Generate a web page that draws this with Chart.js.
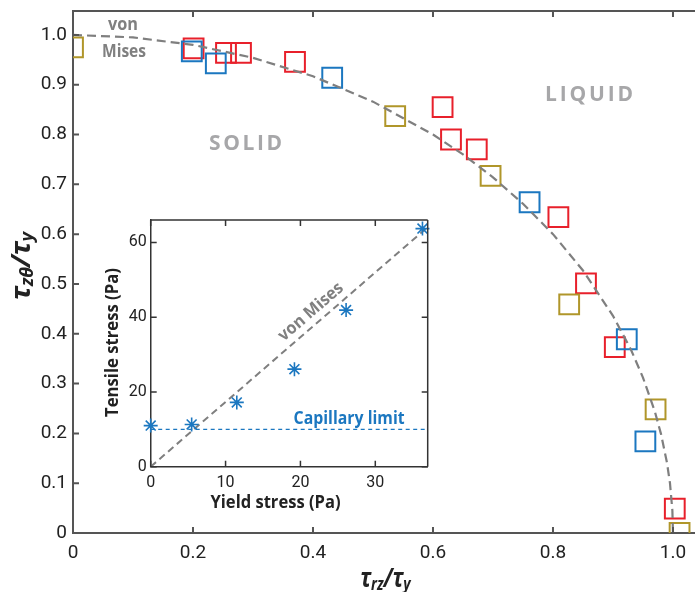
<!DOCTYPE html>
<html><head><meta charset="utf-8">
<script src="https://cdn.jsdelivr.net/npm/chart.js@4/dist/chart.umd.min.js"></script>
<style>
html,body{margin:0;padding:0;background:#fff;}
#wrap{position:relative;width:695px;height:592px;overflow:hidden;}
#main{position:absolute;left:0;top:0;width:695px;height:592px;}
#inset{position:absolute;left:90px;top:210px;width:345px;height:305px;}
</style></head><body>
<div id="wrap"><div id="main"><canvas id="c1"></canvas></div><div id="inset"><canvas id="c2"></canvas></div></div>
<script>
// ---------- main chart data ----------
const xTicks = [0, 0.2, 0.4, 0.6, 0.8, 1.0];
const yTicks = [0, 0.1, 0.2, 0.3, 0.4, 0.5, 0.6, 0.7, 0.8, 0.9, 1.0];
const redX   = [0.201, 0.255, 0.280, 0.370, 0.616, 0.630, 0.673, 0.809, 0.855, 0.903, 1.003];
const redY   = [0.973, 0.964, 0.964, 0.946, 0.855, 0.790, 0.770, 0.634, 0.501, 0.373, 0.049];
const blueX  = [0.198, 0.238, 0.432, 0.761, 0.923, 0.954];
const blueY  = [0.967, 0.943, 0.914, 0.664, 0.389, 0.184];
const oliveX = [0.000, 0.537, 0.696, 0.827, 0.971, 1.011];
const oliveY = [0.975, 0.837, 0.717, 0.459, 0.248, 0.000];
const misesX = [0, 0.1, 0.2, 0.3, 0.4, 0.5, 0.6, 0.65, 0.7, 0.75, 0.8, 0.85, 0.9, 0.93, 0.95, 0.97, 0.98, 0.99, 0.995, 0.999, 1.0];
const misesY = [1.0, 0.995, 0.980, 0.954, 0.917, 0.866, 0.800, 0.760, 0.714, 0.661, 0.600, 0.527, 0.436, 0.368, 0.312, 0.243, 0.199, 0.141, 0.100, 0.045, 0];

// ---------- inset data ----------
const inXTicks = [0, 10, 20, 30];
const inYTicks = [0, 20, 40, 60];
const yieldStress   = [0, 5.47, 11.5, 19.2, 26.1, 36.3];
const tensileStress = [11.0, 11.3, 17.2, 26.1, 41.9, 63.7];
const inMisesX = [0, 37];
const inMisesY = [0, 64.1];
const capX = [0, 37];
const capY = [10, 10];

const RED = '#e8202b', BLUE = '#1b77c0', OLIVE = '#b0962a';
const TICKFONT = 'Roboto, "Open Sans", sans-serif';
const TXTFONT = '"Open Sans", "Noto Sans", sans-serif';

function pts(xs, ys){ return xs.map((x,i)=>({x:x, y:ys[i]})); }
function fmt1(v){ return v === 0 ? '0' : Number(v).toFixed(1); }
function noPad(s){ s.paddingLeft = 0; s.paddingRight = 0; s.paddingTop = 0; s.paddingBottom = 0; }

function spaced(ctx, text, cx, by, totalW){
  const ch = [...text];
  const ws = ch.map(c => ctx.measureText(c).width);
  const sum = ws.reduce((a,b)=>a+b,0);
  const gap = (totalW - sum)/(ch.length-1);
  let x = cx - totalW/2;
  ctx.textAlign = 'left';
  ch.forEach((c,i)=>{ ctx.fillText(c, x, by); x += ws[i] + gap; });
}
function fitText(ctx, text, cx, by, w){
  const m = ctx.measureText(text).width;
  ctx.save();
  ctx.translate(cx, by);
  ctx.scale(w/m, 1);
  ctx.textAlign = 'center';
  ctx.fillText(text, 0, 0);
  ctx.restore();
}
function mathTitle(ctx, parts, w){
  let total = 0;
  const ms = parts.map(p => { ctx.font = p[1] ? 'italic bold 17px "Noto Sans"' : 'italic bold 26px "Noto Sans"'; const m = ctx.measureText(p[0]).width; total += m; return m; });
  const s = w/total;
  ctx.save();
  ctx.scale(s, 1);
  let x = -total/2;
  ctx.textAlign = 'left';
  parts.forEach((p,i) => {
    ctx.font = p[1] ? 'italic bold 17px "Noto Sans"' : 'italic bold 26px "Noto Sans"';
    ctx.fillText(p[0], x, p[1] ? 3 : 0);
    x += ms[i];
  });
  ctx.restore();
}

const framePlugin = {
  id: 'frame',
  afterDatasetsDraw(chart, args, o){
    const {ctx, chartArea:a, scales:{x, y}} = chart;
    ctx.save();
    ctx.strokeStyle = o.color; ctx.lineWidth = o.width;
    ctx.beginPath();
    ctx.moveTo(a.left, a.top); ctx.lineTo(a.right, a.top);
    if (o.right){ ctx.moveTo(a.right, a.top); ctx.lineTo(a.right, a.bottom); }
    x.ticks.forEach(t => {
      const p = x.getPixelForValue(t.value);
      ctx.moveTo(p, a.bottom); ctx.lineTo(p, a.bottom - o.len);
      ctx.moveTo(p, a.top); ctx.lineTo(p, a.top + o.len);
    });
    y.ticks.forEach(t => {
      const p = y.getPixelForValue(t.value);
      ctx.moveTo(a.left, p); ctx.lineTo(a.left + o.len, p);
      if (o.right){ ctx.moveTo(a.right, p); ctx.lineTo(a.right - o.len, p); }
    });
    ctx.stroke();
    ctx.restore();
  }
};

const mainText = {
  id: 'mainText',
  afterDraw(chart){
    const {ctx, chartArea:a, scales:{x, y}} = chart;
    ctx.save();
    ctx.textBaseline = 'alphabetic';
    ctx.fillStyle = '#a7a7a9';
    ctx.font = 'bold 21px ' + TXTFONT;
    spaced(ctx, 'SOLID', x.getPixelForValue(0.2875), y.getPixelForValue(0.768), 73);
    spaced(ctx, 'LIQUID', x.getPixelForValue(0.86), y.getPixelForValue(0.868), 88);
    ctx.fillStyle = '#808080';
    ctx.font = 'bold 18px ' + TXTFONT;
    fitText(ctx, 'von', x.getPixelForValue(0.0833), y.getPixelForValue(1.010), 30);
    fitText(ctx, 'Mises', x.getPixelForValue(0.085), y.getPixelForValue(0.955), 44);
    ctx.fillStyle = '#222';
    ctx.save();
    ctx.translate((a.left + a.right)/2 + 1.5, 587);
    mathTitle(ctx, [['τ',0],['rz',1],['/',0],['τ',0],['y',1]], 50);
    ctx.restore();
    ctx.save();
    ctx.translate(30, 266);
    ctx.rotate(-Math.PI/2);
    mathTitle(ctx, [['τ',0],['zθ',1],['/',0],['τ',0],['y',1]], 68);
    ctx.restore();
    ctx.restore();
  }
};

const insetText = {
  id: 'insetText',
  afterDraw(chart){
    const {ctx, chartArea:a, scales:{x, y}} = chart;
    ctx.save();
    const x0 = x.getPixelForValue(inMisesX[0]), y0 = y.getPixelForValue(inMisesY[0]);
    const x1 = x.getPixelForValue(inMisesX[1]), y1 = y.getPixelForValue(inMisesY[1]);
    const ang = Math.atan2(y1 - y0, x1 - x0);
    ctx.fillStyle = '#808080';
    ctx.font = 'bold 17px ' + TXTFONT;
    ctx.save();
    ctx.translate(x.getPixelForValue(21.4), y.getPixelForValue(41.4));
    ctx.rotate(ang);
    ctx.textBaseline = 'middle';
    fitText(ctx, 'von Mises', 0, 0, 80);
    ctx.restore();
    ctx.textBaseline = 'alphabetic';
    ctx.fillStyle = BLUE;
    ctx.font = 'bold 17px ' + TXTFONT;
    fitText(ctx, 'Capillary limit', x.getPixelForValue(26.5), y.getPixelForValue(11.4), 111);
    ctx.fillStyle = '#222';
    ctx.font = 'bold 17px ' + TXTFONT;
    fitText(ctx, 'Yield stress (Pa)', 185.5, 298, 130);
    ctx.save();
    ctx.translate(28, 132.5);
    ctx.rotate(-Math.PI/2);
    fitText(ctx, 'Tensile stress (Pa)', 0, 0, 149);
    ctx.restore();
    ctx.restore();
  }
};

function sq(data, color){
  return {data, pointStyle:'rect', pointRadius:14, pointHoverRadius:14, borderColor:color, backgroundColor:'rgba(0,0,0,0)', borderWidth:2, clip:0, showLine:false};
}

new Chart(document.getElementById('c1'), {
  type: 'scatter',
  data: { datasets: [
    {type:'line', data: pts(misesX, misesY), borderColor:'#7f7f7f', borderWidth:2.2, borderDash:[9,5], pointRadius:0, fill:false, tension:0, clip:0},
    sq(pts(oliveX, oliveY), OLIVE),
    sq(pts(blueX, blueY), BLUE),
    sq(pts(redX, redY), RED)
  ]},
  options: {
    responsive:true, maintainAspectRatio:false, animation:false,
    layout:{autoPadding:false, padding:{top:11, right:0, bottom:0, left:0}},
    plugins:{legend:{display:false}, tooltip:{enabled:false}, frame:{color:'#555', width:2, len:6, right:false}},
    scales:{
      x:{type:'linear', min:0, max:1.0367,
        afterBuildTicks: s => { s.ticks = xTicks.map(v => ({value:v})); },
        afterFit: s => { s.height = 59; noPad(s); },
        grid:{display:false, drawTicks:false},
        border:{display:true, color:'#555', width:2},
        ticks:{color:'#222', padding:9, font:{family:TICKFONT, size:19}, callback:v => fmt1(v)}},
      y:{type:'linear', min:0, max:1.048,
        afterBuildTicks: s => { s.ticks = yTicks.map(v => ({value:v})); },
        afterFit: s => { s.width = 73; noPad(s); },
        grid:{display:false, drawTicks:false},
        border:{display:true, color:'#555', width:2},
        ticks:{color:'#222', padding:6, font:{family:TICKFONT, size:19}, callback:v => fmt1(v)}}
    }
  },
  plugins:[framePlugin, mainText]
});

new Chart(document.getElementById('c2'), {
  type: 'scatter',
  data: { datasets: [
    {data: pts(yieldStress, tensileStress), pointStyle:'star', pointRadius:7, borderColor:BLUE, backgroundColor:BLUE, borderWidth:1.6, clip:false},
    {type:'line', data: pts(inMisesX, inMisesY), borderColor:'#7f7f7f', borderWidth:2, borderDash:[7,4.5], pointRadius:0, fill:false},
    {type:'line', data: pts(capX, capY), borderColor:BLUE, borderWidth:1.2, borderDash:[4,3.5], pointRadius:0, fill:false}
  ]},
  options: {
    responsive:true, maintainAspectRatio:false, animation:false,
    layout:{autoPadding:false, padding:{top:10, right:7.3, bottom:0, left:0}},
    plugins:{legend:{display:false}, tooltip:{enabled:false}, frame:{color:'#333', width:1.5, len:6, right:true}},
    scales:{
      x:{type:'linear', min:0, max:37,
        afterBuildTicks: s => { s.ticks = inXTicks.map(v => ({value:v})); },
        afterFit: s => { s.height = 48.3; noPad(s); },
        grid:{display:false, drawTicks:false},
        border:{display:true, color:'#333', width:1.5},
        ticks:{color:'#222', padding:7, font:{family:TICKFONT, size:16}, callback:v => String(v)}},
      y:{type:'linear', min:0, max:66,
        afterBuildTicks: s => { s.ticks = inYTicks.map(v => ({value:v})); },
        afterFit: s => { s.width = 60.7; noPad(s); },
        grid:{display:false, drawTicks:false},
        border:{display:true, color:'#333', width:1.5},
        ticks:{color:'#222', padding:4, font:{family:TICKFONT, size:16}, callback:v => String(v)}}
    }
  },
  plugins:[framePlugin, insetText]
});
</script>
</body></html>
